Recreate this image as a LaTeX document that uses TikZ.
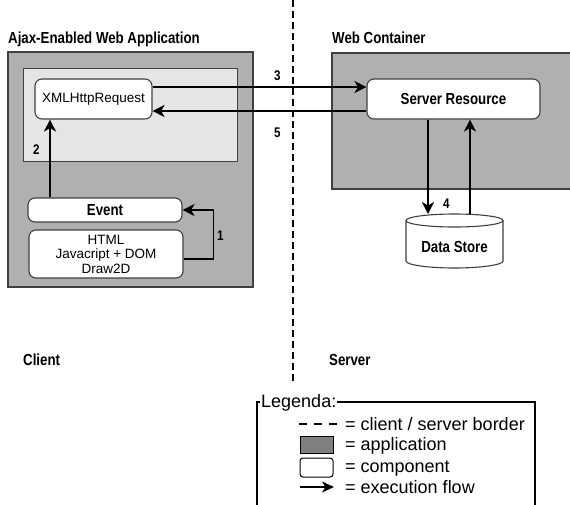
\documentclass[tikz,border=0pt]{standalone}
\usepackage{fontspec}
\setmainfont{Liberation Sans}
\newfontfamily\condfont[FakeStretch=0.83]{Liberation Sans}
\usetikzlibrary{arrows.meta}
\definecolor{appgray}{gray}{0.69}
\definecolor{innergray}{gray}{0.9}
\definecolor{leggray}{gray}{0.5}
\definecolor{edge}{gray}{0.25}
\begin{document}
\begin{tikzpicture}[x=1pt,y=-1pt,
  appbox/.style={draw=edge, line width=1.1pt, fill=appgray},
  innerbox/.style={draw=edge, line width=1pt, fill=innergray},
  comp/.style={draw=edge, line width=1.1pt, fill=white, rounded corners=7pt, inner sep=0pt},
  cond/.style={font=\condfont\bfseries\fontsize{16}{18}\selectfont},
  plain/.style={font=\fontsize{13.5}{14.5}\selectfont},
  num/.style={font=\condfont\bfseries\fontsize{14}{16}\selectfont, inner sep=0pt},
  flow/.style={line width=1.8pt, -{Stealth[length=12pt, width=12pt, inset=3.5pt]}},
  divider/.style={line width=2.2pt, dash pattern=on 7pt off 4pt},
  legtext/.style={font=\fontsize{18}{20}\selectfont, inner sep=0pt, anchor=base west},
  legbox/.style={line width=1.8pt, black}
]
\useasboundingbox (0,0) rectangle (570,504);

% client / server border
\coordinate (divtop) at (293,0);
\coordinate (divbot) at (293,382);
\draw[divider] (divtop) -- (divbot);

% client side application
\draw[appbox] (8,52) rectangle (253,287);
\draw[innerbox] (23,68) rectangle (237,161);
\node[cond, anchor=base west, inner sep=0pt] (apptitle) at (8,43) {Ajax-Enabled Web Application};

\node[comp, plain, minimum width=117pt, minimum height=40pt] (xhr) at (93.5,99) {XMLHttpRequest};
\node[comp, cond, minimum width=154pt, minimum height=24pt] (event) at (105,210) {Event};
\node[comp, plain, align=center, minimum width=154pt, minimum height=48pt] (html) at (106,254) {HTML\\Javacript + DOM\\Draw2D};

% server side application
\fill[appgray] (332,53) rectangle (575,189);
\draw[draw=edge, line width=1.1pt] (575,53) -- (332,53) -- (332,189) -- (575,189);
\node[cond, anchor=base west, inner sep=0pt] (webtitle) at (332,43) {Web Container};
\node[comp, cond, minimum width=173pt, minimum height=40pt] (sr) at (453.5,99) {Server Resource};

% data store cylinder
\draw[draw=edge, line width=1.1pt, fill=white] (406,220.5) -- (406,261)
  arc[start angle=180, end angle=360, x radius=48.5pt, y radius=7pt] -- (503,220.5);
\draw[draw=edge, line width=1.1pt, fill=white] (454.5,220.5) ellipse[x radius=48.5pt, y radius=6.5pt];
\coordinate (dstop) at (454.5,214);
\node[cond] (ds) at (454.5,247) {Data Store};

% execution flow
\draw[flow] ([yshift=-5pt]html.east) -- ++(30,0) |- (event.east);
\draw[flow] ([xshift=-55pt]event.north) -- ([xshift=-55pt]event.north |- xhr.south);
\draw[flow] ([yshift=12pt]xhr.east) -- ([yshift=12pt]sr.west);
\draw[flow] ([yshift=-12pt]sr.west) -- ([yshift=-12pt]xhr.east);
\draw[flow] ([xshift=-25.5pt]sr.south) -- ([xshift=-25.5pt]sr.south |- dstop);
\draw[flow] ([xshift=16.5pt]sr.south |- dstop) -- ([xshift=16.5pt]sr.south);

\node[num, anchor=base west] (n1) at (217,240) {1};
\node[num, anchor=base west] (n2) at (33,154) {2};
\node[num, anchor=base west] (n3) at (274,80) {3};
\node[num, anchor=base west] (n4) at (443,208) {4};
\node[num, anchor=base west] (n5) at (274,137) {5};

% sides
\node[cond, anchor=base west, inner sep=0pt] (client) at (23,365) {Client};
\node[cond, anchor=base west, inner sep=0pt] (server) at (329,365) {Server};

% legend
\node[legtext] (legtitle) at (261,407) {Legenda:};
\draw[legbox] ([xshift=-1pt]legtitle.west |- 0,402) -- (257,402) -- (257,508);
\draw[legbox] ([xshift=1pt]legtitle.east |- 0,402) -- (535,402) -- (535,508);

\coordinate (ka) at (299,424);
\coordinate (kb) at (337,424);
\draw[line width=1.6pt, dash pattern=on 8pt off 7pt] (ka) -- (kb);
\node[legtext] (l1) at (345,430) {= client / server border};

\draw[line width=1pt, fill=leggray] (300,436) rectangle (333,453);
\node[legtext] (l2) at (345,450) {= application};

\draw[line width=1pt, fill=white, rounded corners=3pt] (300,458) rectangle (333,477);
\node[legtext] (l3) at (345,472) {= component};

\coordinate (fa) at (300,487);
\coordinate (fb) at (334,487);
\draw[line width=1.6pt, -{Stealth[length=12pt, width=11pt, inset=3.5pt]}] (fa) -- (fb);
\node[legtext] (l4) at (345,493) {= execution flow};
\end{tikzpicture}
\end{document}
